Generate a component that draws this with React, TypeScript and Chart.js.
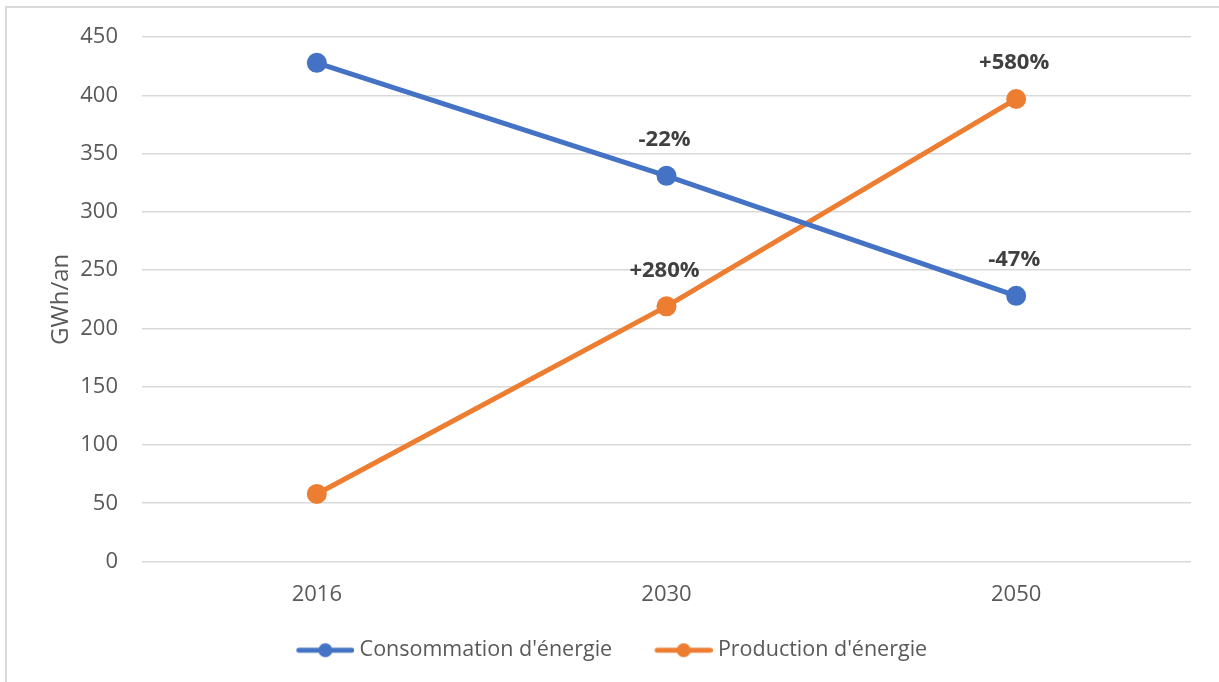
import React, { useEffect, useRef } from "react";
import { Chart, registerables } from "chart.js";

Chart.register(...registerables);

const categories = ["2016", "2030", "2050"];
const consommation = [428, 331, 228];
const production = [58, 219, 397];
const consommationLabels = ["", "-22%", "-47%"];
const productionLabels = ["", "+280%", "+580%"];
const seriesNames = ["Consommation d'énergie", "Production d'énergie"];
const yMin = 0;
const yMax = 450;
const yStep = 50;
const yTitle = "GWh/an";

const BLUE = "#4472C4";
const ORANGE = "#ED7D31";
const TEXT = "#595959";
const GRID = "#D9D9D9";
const FONT = "'Open Sans', sans-serif";
const LEGEND_FS = 21.5;
const BOX_W = 85;
const IMG_W = 96;

function legendImage(color: string) {
  const c = document.createElement("canvas");
  c.width = IMG_W;
  c.height = 16;
  const ctx = c.getContext("2d")!;
  ctx.strokeStyle = color;
  ctx.lineWidth = 5;
  ctx.lineCap = "round";
  ctx.beginPath();
  ctx.moveTo(IMG_W - 58 + 2.5, 8);
  ctx.lineTo(IMG_W - 2.5, 8);
  ctx.stroke();
  ctx.fillStyle = color;
  ctx.beginPath();
  ctx.arc(IMG_W - 29, 8, 7, 0, Math.PI * 2);
  ctx.fill();
  return c;
}

const pointLabelPlugin = {
  id: "pointLabels",
  afterDatasetsDraw(chart: any) {
    const ctx = chart.ctx;
    const sets = [consommationLabels, productionLabels];
    chart.data.datasets.forEach((_ds: any, di: number) => {
      const meta = chart.getDatasetMeta(di);
      meta.data.forEach((pt: any, i: number) => {
        const t = sets[di][i];
        if (!t) return;
        ctx.save();
        ctx.font = `bold 22px ${FONT}`;
        ctx.fillStyle = "#404040";
        ctx.textAlign = "center";
        ctx.textBaseline = "middle";
        ctx.fillText(t, pt.x - 2, pt.y - 36);
        ctx.restore();
      });
    });
  },
};

export default function App() {
  const ref = useRef<HTMLCanvasElement>(null);
  useEffect(() => {
    document.body.style.margin = "0";
    const imgs = [legendImage(BLUE), legendImage(ORANGE)];
    const chart = new Chart(ref.current!, {
      type: "line",
      data: {
        labels: categories,
        datasets: [
          {
            label: seriesNames[0],
            data: consommation,
            borderColor: BLUE,
            backgroundColor: BLUE,
            borderWidth: 5,
            pointRadius: 10,
            pointHoverRadius: 10,
            pointBackgroundColor: BLUE,
            pointBorderWidth: 0,
            tension: 0,
          },
          {
            label: seriesNames[1],
            data: production,
            borderColor: ORANGE,
            backgroundColor: ORANGE,
            borderWidth: 5,
            pointRadius: 10,
            pointHoverRadius: 10,
            pointBackgroundColor: ORANGE,
            pointBorderWidth: 0,
            tension: 0,
          },
        ],
      },
      options: {
        responsive: false,
        animation: false,
        layout: { padding: { left: 0, right: 28, top: 37, bottom: 11 } },
        scales: {
          x: {
            offset: true,
            grid: { display: false },
            border: { display: false },
            ticks: { color: TEXT, font: { family: FONT, size: 22 }, padding: 12 },
            afterFit: (s: any) => {
              s.height = 68;
            },
          },
          y: {
            min: yMin,
            max: yMax,
            ticks: { stepSize: yStep, color: TEXT, font: { family: FONT, size: 22 }, padding: 24 },
            grid: { color: GRID, lineWidth: 1.5, drawTicks: false },
            border: { display: false },
            title: {
              display: true,
              text: yTitle,
              color: TEXT,
              font: { family: FONT, size: 24 },
              padding: { top: 47, bottom: 0 },
            },
            afterFit: (s: any) => {
              s.width = 142;
            },
          },
        },
        plugins: {
          tooltip: { enabled: false },
          legend: {
            position: "bottom",
            labels: {
              usePointStyle: true,
              pointStyleWidth: BOX_W,
              padding: 10,
              color: TEXT,
              font: { family: FONT, size: LEGEND_FS },
              generateLabels: (c: any) => {
                const items = Chart.defaults.plugins.legend.labels.generateLabels(c);
                return items.map((it: any, i: number) => ({ ...it, pointStyle: imgs[i], fontColor: TEXT }));
              },
            },
          },
        },
      },
      plugins: [pointLabelPlugin],
    });
    return () => chart.destroy();
  }, []);
  return (
    <div style={{ position: "relative", width: 1219, height: 682, overflow: "hidden", background: "#fff" }}>
      <div
        style={{
          position: "absolute",
          left: 5,
          top: 6,
          width: 1400,
          height: 900,
          border: `2px solid ${GRID}`,
        }}
      />
      <canvas ref={ref} width={1219} height={682} style={{ position: "absolute", left: 0, top: 0 }} />
    </div>
  );
}
